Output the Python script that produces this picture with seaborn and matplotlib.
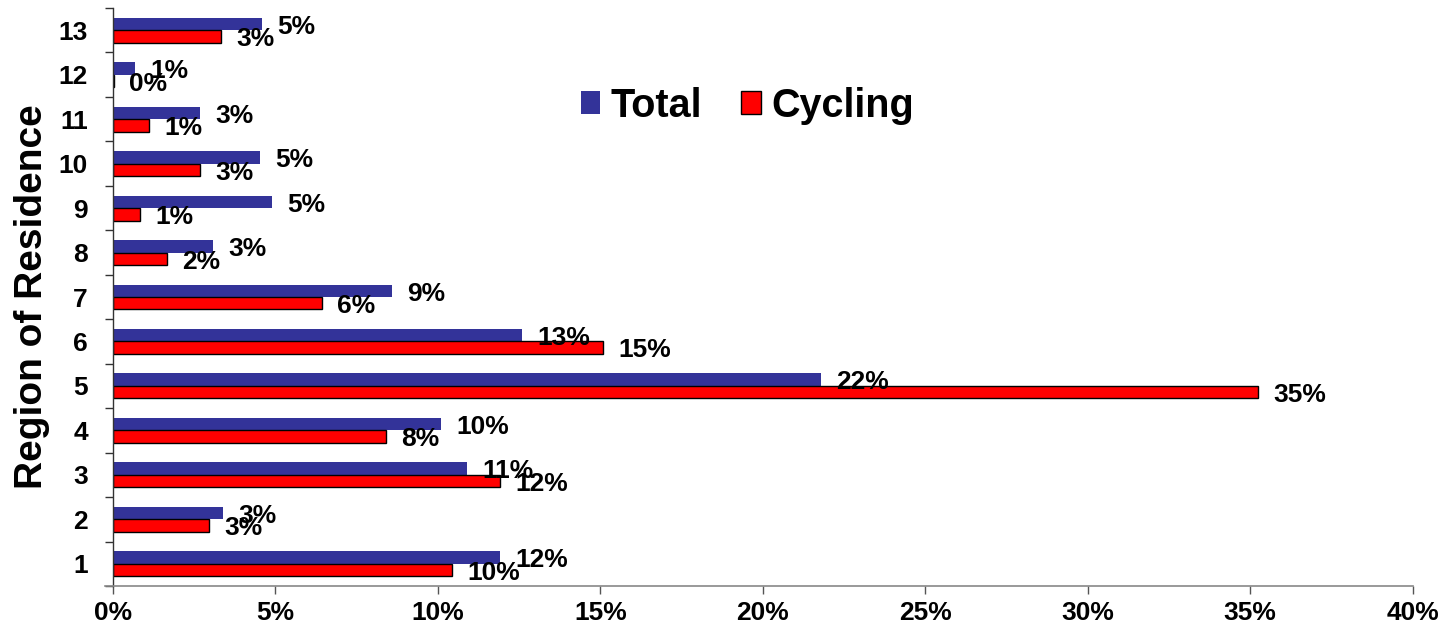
import matplotlib
matplotlib.use("Agg")
import matplotlib.pyplot as plt
import seaborn as sns
import pandas as pd
from matplotlib.ticker import FuncFormatter, MultipleLocator
from matplotlib.patches import Patch

regions = ["1", "2", "3", "4", "5", "6", "7", "8", "9", "10", "11", "12", "13"]
total = [11.90, 3.38, 10.89, 10.09, 21.78, 12.58, 8.58, 3.08, 4.89, 4.52, 2.68, 0.68, 4.58]
cycling = [10.43, 2.95, 11.90, 8.40, 35.23, 15.08, 6.43, 1.66, 0.83, 2.68, 1.10, 0.03, 3.32]
series = ["Total", "Cycling"]
colors = {"Total": "#333399", "Cycling": "#FF0000"}

df = pd.DataFrame({
    "Region": regions * 2,
    "Share": total + cycling,
    "Series": ["Total"] * len(regions) + ["Cycling"] * len(regions),
})

sns.set_theme(style="white")
plt.rcParams["font.family"] = ["Liberation Sans", "DejaVu Sans"]
plt.rcParams["font.weight"] = "bold"
plt.rcParams["text.color"] = "black"
plt.rcParams["axes.labelcolor"] = "black"
plt.rcParams["xtick.color"] = "black"
plt.rcParams["ytick.color"] = "black"

fig = plt.figure(figsize=(14.43, 6.31), dpi=100)
ax = fig.add_axes([0.0783, 0.0713, 0.9007, 0.916])

order = regions[::-1]
sns.barplot(data=df, x="Share", y="Region", hue="Series", order=order,
            hue_order=series, palette=colors, orient="h", width=0.56,
            dodge=True, errorbar=None, ax=ax, legend=False, saturation=1)

for bar in ax.containers[0]:
    bar.set_edgecolor("none")
for bar in ax.containers[1]:
    bar.set_edgecolor("black")
    bar.set_linewidth(1.0)

for cont in ax.containers:
    for bar in cont:
        w = bar.get_width()
        yc = bar.get_y() + bar.get_height() / 2
        ax.annotate(f"{round(w):.0f}%", xy=(w, yc), xytext=(11, -2),
                    textcoords="offset points", ha="left", va="center",
                    fontsize=19, fontweight="bold", color="black")

ax.set_xlim(0, 40)
ax.set_ylim(len(regions) - 0.5, -0.5)
ax.xaxis.set_major_locator(MultipleLocator(5))
ax.xaxis.set_major_formatter(FuncFormatter(lambda v, p: f"{v:.0f}%"))
ax.tick_params(axis="x", labelsize=19, length=6, width=1, color="#555555",
               labelcolor="black", direction="out", pad=5, bottom=True)
ax.tick_params(axis="y", labelsize=19, length=0, pad=18, left=False,
               labelcolor="black")
for lab in ax.get_xticklabels() + ax.get_yticklabels():
    lab.set_fontweight("bold")

ax.set_yticks([i - 0.5 for i in range(len(regions) + 1)], minor=True)
ax.tick_params(axis="y", which="minor", length=6, width=1, color="#333333", left=True)

ax.set_xlabel("")
ax.set_ylabel("Region of Residence", fontsize=28, fontweight="bold",
              color="black", labelpad=6)

for s in ["top", "right"]:
    ax.spines[s].set_visible(False)
ax.spines["left"].set_color("#333333")
ax.spines["bottom"].set_color("#888888")
ax.spines["left"].set_linewidth(1)
ax.spines["bottom"].set_linewidth(1.2)
ax.spines["bottom"].set_bounds(-0.25, 40)

handles = [Patch(facecolor=colors["Total"], edgecolor="none"),
           Patch(facecolor=colors["Cycling"], edgecolor="black", linewidth=1)]
leg = ax.legend(handles, series, loc="center", bbox_to_anchor=(0.488, 0.831),
                ncol=2, frameon=False, prop={"size": 28.5, "weight": "bold"},
                handlelength=0.5, handleheight=0.5, handletextpad=0.25,
                columnspacing=1.0)
for t in leg.get_texts():
    t.set_color("black")

fig.savefig("out.png", dpi=100)
